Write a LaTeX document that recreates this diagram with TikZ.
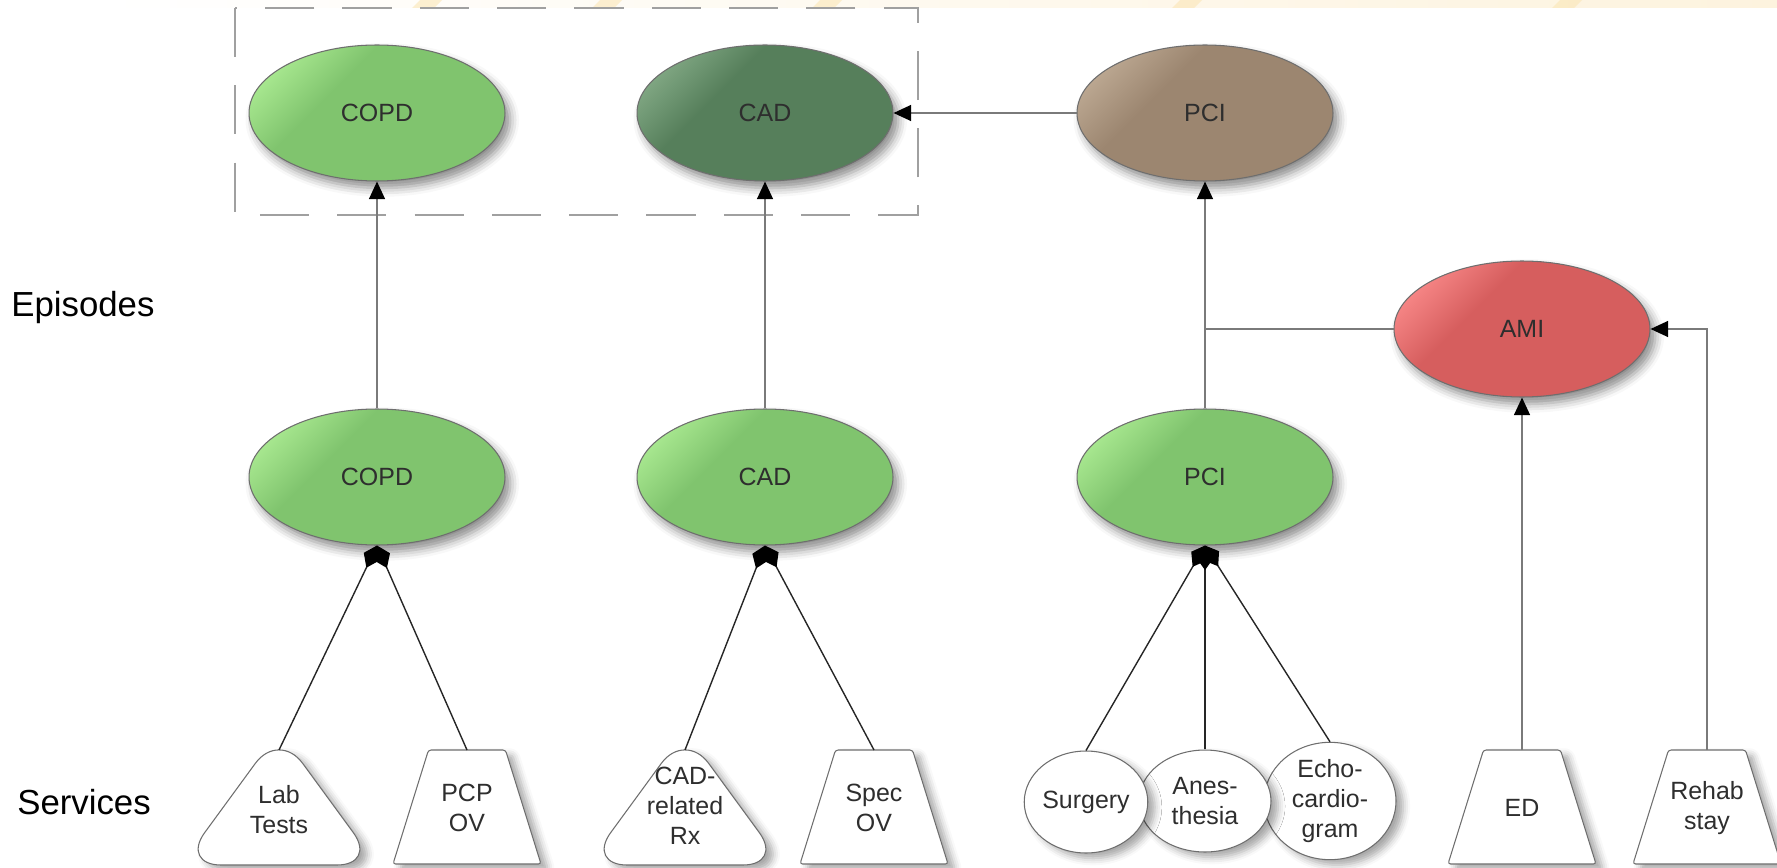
\documentclass[tikz,border=0pt]{standalone}
\usepackage{fontspec}
\setmainfont{Liberation Sans}
\usetikzlibrary{shapes.geometric,arrows.meta,shadows.blur,calc}
\definecolor{gmain}{HTML}{80C46E}
\definecolor{glight}{HTML}{A6E68E}
\definecolor{dmain}{HTML}{567F5B}
\definecolor{dlight}{HTML}{7EA581}
\definecolor{bmain}{HTML}{9C8670}
\definecolor{blight}{HTML}{BAA690}
\definecolor{rmain}{HTML}{D65E5E}
\definecolor{rlight}{HTML}{F58484}
\definecolor{edgegray}{HTML}{6E6E6E}
\definecolor{linegray}{HTML}{7A7A7A}
\definecolor{boxgray}{HTML}{A0A0A0}
\definecolor{txt}{HTML}{2E2E2E}
\definecolor{cream}{HTML}{FDF3DE}
\definecolor{stripe}{HTML}{FBE6B6}
\pgfdeclareverticalshading{shgreen}{100bp}{color(0bp)=(gmain); color(62bp)=(gmain); color(76bp)=(glight); color(100bp)=(glight)}
\pgfdeclareverticalshading{shdark}{100bp}{color(0bp)=(dmain); color(62bp)=(dmain); color(76bp)=(dlight); color(100bp)=(dlight)}
\pgfdeclareverticalshading{shbrown}{100bp}{color(0bp)=(bmain); color(62bp)=(bmain); color(76bp)=(blight); color(100bp)=(blight)}
\pgfdeclareverticalshading{shred}{100bp}{color(0bp)=(rmain); color(62bp)=(rmain); color(76bp)=(rlight); color(100bp)=(rlight)}
\tikzset{
  ep/.style={ellipse, draw=edgegray, line width=0.6pt, minimum width=5.12cm,
    minimum height=2.72cm, inner sep=0pt, text=txt,
    font=\fontsize{14.2}{17}\selectfont, shade, shading angle=45,
    blur shadow={shadow xshift=3pt, shadow yshift=-4pt, shadow blur radius=5pt, shadow opacity=45}},
  gep/.style={ep, shading=shgreen},
  dep/.style={ep, shading=shdark},
  bep/.style={ep, shading=shbrown},
  rep/.style={ep, shading=shred},
  svc/.style={draw=edgegray, fill=white, line width=0.6pt, inner sep=0pt,
    blur shadow={shadow xshift=4pt, shadow yshift=-3pt, shadow blur radius=4pt, shadow opacity=35}},
  svclabel/.style={align=center, inner sep=0pt, text=txt, font=\fontsize{14.2}{17}\selectfont},
  sell/.style={svc, svclabel, ellipse, minimum height=2.04cm},
  rtri/.style={svc, rounded corners=0.8cm},
  trapbox/.style={svc, rounded corners=1.5pt},
  garrow/.style={draw=linegray, line width=1.1pt, -{Triangle[width=9pt,length=10pt,color=black]}},
  gline/.style={draw=linegray, line width=1.1pt},
  comp/.style={draw=black!85, line width=0.8pt, {Diamond[width=10pt,length=14pt,color=black]}-},
  dashbox/.style={draw=boxgray, line width=0.85pt, dash pattern=on 28pt off 16pt},
  sidelabel/.style={anchor=west, inner sep=0pt, font=\fontsize{19.8}{24}\selectfont}
}
% trapezoid service: #1 name, #2 centre x, #3 text
\newcommand\servtrap[3]{%
  \path[trapbox] (#2-38.5,750) -- (#2+38.5,750) -- (#2+74,864) -- (#2-74,864) -- cycle;
  \node[svclabel] (#1) at (#2,808) {#3};
  \coordinate (#1top) at (#2,750);
}
\begin{document}
\begin{tikzpicture}[x=0.02cm, y=-0.02cm]
\useasboundingbox (0,0) rectangle (1777,868);
% top banner
\shade[left color=white, right color=cream] (100,0) rectangle (1777,8);
\foreach \s in {420,600,820,1180,1560} {
  \fill[stripe, opacity=0.6] (\s,0) -- (\s+22,0) -- (\s+14,8) -- (\s-8,8) -- cycle;
}
% group box
\draw[dashbox] (235,8) rectangle (918,215);
% side labels
\node[sidelabel] (episodes) at (11,308) {Episodes};
\node[sidelabel] (services) at (17,802) {Services};
% episode ellipses, top row
\node[gep] (copdt) at (377,113) {COPD};
\node[dep] (cadt) at (765,113) {CAD};
\node[bep] (pcit) at (1205,113) {PCI};
\node[rep] (ami) at (1522,329) {AMI};
% middle row
\node[gep] (copdm) at (377,477) {COPD};
\node[gep] (cadm) at (765,477) {CAD};
\node[gep] (pcim) at (1205,477) {PCI};
% services
\path[rtri] (279,731) -- (377,865) -- (181,865) -- cycle;
\node[svclabel] (lab) at (279,810) {Lab\\Tests};
\coordinate (labtop) at (279,750);
\servtrap{pcp}{467}{PCP\\OV}
\path[rtri] (685,731) -- (783,865) -- (587,865) -- cycle;
\node[svclabel] (rx) at (685,806) {CAD-\\related\\Rx};
\coordinate (rxtop) at (685,750);
\servtrap{spec}{874}{Spec\\OV}
\node[sell, minimum width=2.64cm] (echo) at (1330,801) {Echo-\\cardio-\\gram};
\node[sell, minimum width=2.64cm] (anes) at (1205,801) {Anes-\\thesia};
\node[sell, minimum width=2.42cm] (surg) at (1086,802) {Surgery};
\servtrap{ed}{1522}{ED}
\servtrap{rehab}{1707}{Rehab\\stay}
% composition connectors
\draw[comp] (copdm.south) -- (labtop);
\draw[comp] (copdm.south) -- (pcptop);
\draw[comp] (cadm.south) -- (rxtop);
\draw[comp] (cadm.south) -- (spectop);
\draw[comp] (pcim.south) -- (surg.north);
\draw[comp] (pcim.south) -- (anes.north);
\draw[comp] (pcim.south) -- (echo.north);
% arrows
\draw[garrow] (copdm.north) -- (copdt.south);
\draw[garrow] (cadm.north) -- (cadt.south);
\draw[garrow] (pcim.north) -- (pcit.south);
\draw[garrow] (pcit.west) -- (cadt.east);
\coordinate (junc) at (pcim.north |- ami.west);
\draw[gline] (ami.west) -- (junc);
\draw[garrow] (edtop) -- (ami.south);
\draw[garrow] (rehabtop) |- (ami.east);
\end{tikzpicture}
\end{document}
